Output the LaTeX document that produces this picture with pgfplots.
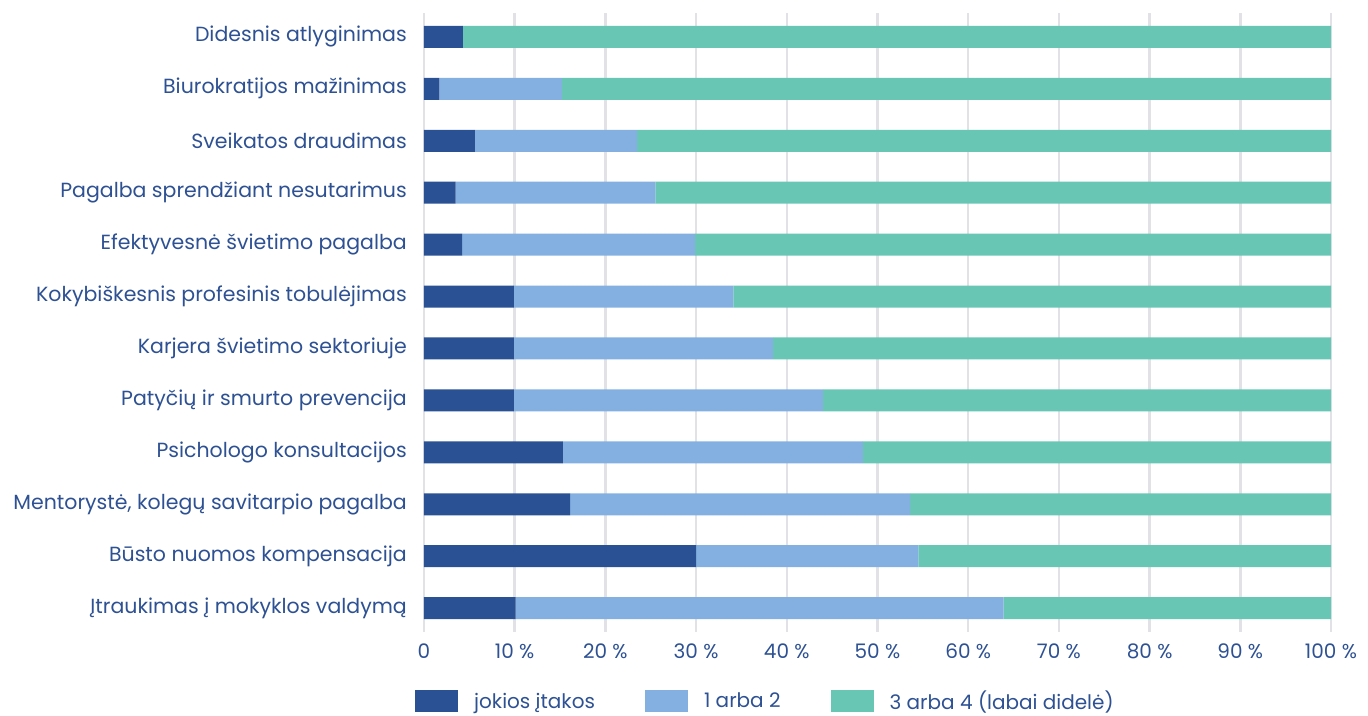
\documentclass[border=0pt]{standalone}
\usepackage{pgfplots}
\usepackage{pgfplotstable}
\pgfplotsset{compat=1.18}
\usepackage{fontspec}
\setmainfont{Poppins}
\definecolor{cdark}{HTML}{2A5194}
\definecolor{clight}{HTML}{83B0E0}
\definecolor{cgreen}{HTML}{68C6B5}
\definecolor{ctext}{HTML}{2D5193}
\definecolor{cgrid}{HTML}{E2E2E6}
\pgfplotstableread{
y dark light green
0 4.3 0.0 95.7
1 1.7 13.5 84.8
2 5.6 17.9 76.5
3 3.5 22.0 74.5
4 4.2 25.7 70.1
5 9.9 24.2 65.9
6 9.9 28.6 61.5
7 9.9 34.1 56.0
8 15.3 33.1 51.6
9 16.1 37.5 46.4
10 30.0 24.5 45.5
11 10.1 53.8 36.1
}\datatable
\begin{document}
\begin{tikzpicture}
\path[use as bounding box] (-424pt,-83pt) rectangle (944pt,632pt);
\begin{axis}[
  at={(0pt,0pt)}, anchor=south west,
  scale only axis, width=907pt, height=619pt,
  xbar stacked, bar width=22pt,
  xmin=0, xmax=100, ymin=-0.46, ymax=11.46,
  y dir=reverse,
  axis line style={draw=none},
  major tick length=0pt,
  xtick={0,10,...,100},
  xticklabels={0,10 \%,20 \%,30 \%,40 \%,50 \%,60 \%,70 \%,80 \%,90 \%,100 \%},
  ytick={0,...,11},
  yticklabels={Didesnis atlyginimas,Biurokratijos mažinimas,Sveikatos draudimas,Pagalba sprendžiant nesutarimus,Efektyvesnė švietimo pagalba,Kokybiškesnis profesinis tobulėjimas,Karjera švietimo sektoriuje,Patyčių ir smurto prevencija,Psichologo konsultacijos,{Mentorystė, kolegų savitarpio pagalba},Būsto nuomos kompensacija,Įtraukimas į mokyklos valdymą},
  xmajorgrids, grid style={cgrid, line width=2.5pt},
  tick label style={text=ctext},
  yticklabel style={font=\fontsize{20.5}{24}\selectfont, inner sep=0pt, anchor=east, xshift=-17pt},
  xticklabel style={font=\fontsize{20}{24}\selectfont, inner sep=0pt, anchor=north, yshift=-12pt},
  legend columns=3,
  legend style={at={(axis description cs:-0.01323,-0.1120)}, anchor=west, draw=none, fill=none,
    font=\fontsize{20}{24}\selectfont, text=ctext,
    nodes={inner sep=0pt},
    /tikz/every odd column/.append style={column sep=16pt},
    /tikz/every even column/.append style={column sep=50pt}},
  legend image code/.code={\fill[#1, draw=none] (0pt,-11pt) rectangle (43pt,11pt);},
]
\addplot[fill=cdark, draw=none] table[x=dark, y=y] {\datatable};
\addplot[fill=clight, draw=none] table[x=light, y=y] {\datatable};
\addplot[fill=cgreen, draw=none] table[x=green, y=y] {\datatable};
\legend{jokios įtakos, 1 arba 2, 3 arba 4 (labai didelė)}
\end{axis}
\end{tikzpicture}
\end{document}
